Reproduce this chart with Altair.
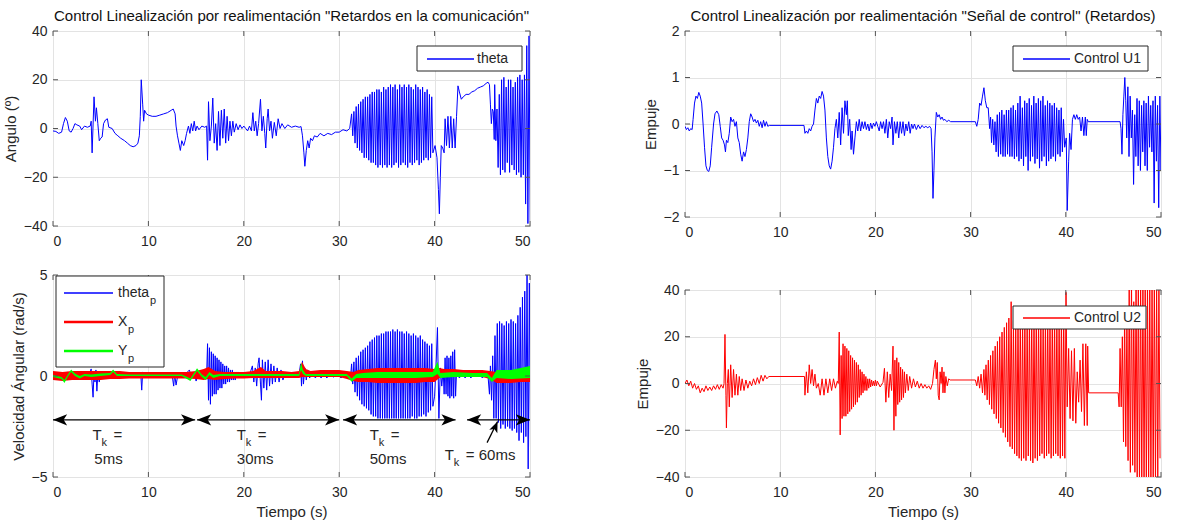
import altair as alt
import pandas as pd

FONT = "Liberation Sans"
INK = "#262626"
EDGE = "#555555"
BLUE, RED, GREEN = "#0000ff", "#ff0000", "#00ff00"

TITLE_LEFT = 'Control Linealización por realimentación "Retardos en la comunicación"'
TITLE_RIGHT = 'Control Linealización por realimentación "Señal de control" (Retardos)'
X_TICKS = [0, 10, 20, 30, 40, 50]

# ---------------- theta (deg) ----------------
THETA_PTS_A = [(0,-1),(0.3,-1.2),(0.6,-2),(0.9,-1.5),(1.1,2),(1.3,4.5),(1.5,3),(1.7,-1),(1.9,-1.5),(2.1,0),(2.3,2),(2.5,1.5),(2.8,1),(3.0,-0.5),(3.3,1),(3.6,0.5),(3.9,1),(4.0,3),(4.1,-10),(4.3,13),(4.45,3),(4.55,8.5),(4.7,2),(4.85,-5),(5.0,-4),(5.15,-3.5),(5.3,2),(5.5,3.5),(5.7,4),(5.85,0.5),(6.2,0),(6.5,-2),(6.8,-3),(7.1,-4),(7.5,-5),(7.8,-6),(8.1,-7),(8.4,-7.5),(8.7,-7),(8.9,-6),(9.05,-3),(9.15,5),(9.25,20),(9.4,10),(9.5,3),(9.6,7.5),(9.8,6),(10.0,5.5),(10.4,5),(10.8,5),(11.2,5.5),(11.6,6),(12.0,6.5),(12.4,7.5),(12.6,8),(12.8,6),(12.9,1),(13.05,-3),(13.2,-6),(13.35,-9),(13.5,-5),(13.7,-7),(13.85,-5),(14.0,-2),(14.2,1),(14.35,-2),(14.5,2),(14.65,-1),(14.8,3),(14.95,-1),(15.1,1),(15.3,-0.5),(15.6,1),(15.9,0.5),(16.1,1),(16.2,-13),(16.3,11),(16.45,-5),(16.6,1),(16.75,12.5),(16.9,-6),(17.05,2),(17.2,-9),(17.35,7),(17.5,-7),(17.65,7.5),(17.8,-4),(17.95,8),(18.1,-6),(18.25,5),(18.4,-5),(18.55,3),(18.7,-3),(18.85,3),(19.0,-1.5),(19.2,2),(19.4,-0.5),(19.6,1.5),(19.8,0),(20.0,1),(20.2,0),(20.4,-1),(20.6,1),(20.8,-1),(20.95,6.5),(21.1,-1),(21.25,3),(21.4,-3),(21.55,2),(21.75,12),(21.9,-1),(22.05,5),(22.2,-2),(22.3,-8),(22.45,4),(22.55,8),(22.7,-1),(22.85,3),(23.0,-4),(23.2,2.5),(23.4,-3),(23.6,4),(23.8,0),(24.0,2),(24.3,0),(24.6,1.5),(25.0,0.5),(25.4,1),(25.8,0.5),(26.0,0.8),(26.15,-3),(26.3,-10),(26.4,-15.5),(26.55,-9),(26.7,-5),(26.85,-8),(27.0,-4),(27.2,-5),(27.4,-3),(27.7,-3.5),(28.0,-2),(28.4,-3),(28.8,-2),(29.2,-2.5),(29.6,-1.5),(30.0,-1.5),(30.4,-0.5),(30.8,-1),(31.1,0)]
THETA_OSC_A = [6,-3,7,-6,9,-8,10,-9,11,-10,12,-12,13,-12,13,-13,14,-14,15,-14,15,-15,16,-16,16,-15,15,-16,17,-15,16,-16,17,-15,18,-16,17,-15,18,-14,16,-16,18,-15,17,-14,18,-15,17,-16,18,-14,17,-15,16,-14,18,-13,17,-15,16,-14,17,-13,15,-12,16,-13,14,-12,13,-10]
THETA_PTS_B = [(40.05,-7),(40.25,-12),(40.4,-25),(40.5,-35),(40.6,-20),(40.7,-7),(40.85,-8),(41.0,-10),(41.1,4),(41.25,-7),(41.4,5),(41.55,-8),(41.7,5),(41.85,-8),(42.0,4),(42.15,-8),(42.3,5),(42.45,17.5),(42.6,15),(42.8,12),(43.0,13),(43.3,14),(43.6,14),(43.9,15),(44.2,15.5),(44.5,16.5),(44.8,17),(45.1,17.5),(45.4,18.5),(45.6,19),(45.75,18),(45.85,10),(45.95,2),(46.05,8),(46.15,7),(46.25,-4.5)]
THETA_OSC_B = [18,-5,8,-16,14,-19,20,-17,21,-18,17,-14,20,-18,20,-15,17,-17,19,-19,21,-18,22,-20,20,-19,22,-31,34,-39,38,-38]
THETA = [THETA_PTS_A, (31.3, 0.12, THETA_OSC_A), THETA_PTS_B, (46.3, 0.12, THETA_OSC_B)]

# ---------------- theta_p (rad/s) ----------------
THETAP_PTS_A = [(0,0),(0.3,0.1),(0.6,-0.1),(0.9,0.15),(1.2,-0.1),(1.5,0.2),(1.8,-0.15),(2.1,0.1),(2.4,-0.1),(2.7,0.15),(3.0,-0.1),(3.3,0.15),(3.6,-0.05),(3.9,0.2),(4.0,0.35),(4.1,-0.4),(4.2,-1.05),(4.3,0.2),(4.4,-0.3),(4.5,0.3),(4.6,-0.75),(4.7,0.1),(4.85,-0.3),(5.0,0.2),(5.3,-0.1),(5.6,0.15),(5.9,-0.1),(6.2,0.2),(6.5,-0.1),(6.8,0.1),(7.1,-0.05),(7.5,0.1),(8.0,0),(8.5,0.1),(9.0,-0.05),(9.2,0.1),(9.3,-0.7),(9.4,0.2),(9.6,0),(10,0.05),(10.5,0),(11,0.1),(11.5,0),(12,0.1),(12.5,0),(12.65,-0.5),(12.75,0.1),(12.9,-0.45),(13.1,0.1),(13.5,0.05),(14.0,0.15),(14.3,0.3),(14.5,-0.1),(14.8,0.2),(15.0,-0.25),(15.3,0.2),(15.6,-0.1),(15.9,0.1),(16.1,0)]
THETAP_OSC_A = [1.6,-1.2,1.4,-1.4,1.2,-1.0,1.1,-0.9,1.0,-0.9,0.9,-0.7,0.8,-0.6,0.7,-0.6,0.6,-0.4,0.5,-0.4,0.5,-0.3,0.4,-0.3,0.3,-0.2,0.3,-0.2,0.2,-0.2,0.2,-0.1,0.2,-0.1,0.15,-0.1,0.1,-0.1]
THETAP_PTS_B = [(20.1,0.1),(20.4,-0.1),(20.7,0.2),(20.9,0.5),(21.05,-0.3),(21.2,0.4),(21.35,-0.5),(21.5,0.6),(21.6,0.9),(21.75,-0.4),(21.85,-1.2),(21.95,0.8),(22.1,-0.6),(22.25,0.7),(22.4,-0.7),(22.55,0.8),(22.7,-0.5),(22.85,0.6),(23.0,-0.4),(23.15,0.5),(23.3,-0.3),(23.5,0.4),(23.7,-0.3),(23.9,0.3),(24.1,-0.2),(24.4,0.2),(24.7,-0.1),(25.0,0.1),(25.4,-0.05),(25.8,0.1),(25.95,0.6),(26.05,-0.5),(26.15,0.75),(26.25,-0.4),(26.4,0.4),(26.55,-0.2),(26.7,0.3),(26.9,-0.1),(27.2,0.2),(27.5,-0.1),(27.8,0.15),(28.1,-0.1),(28.4,0.15),(28.7,-0.1),(29.0,0.1),(29.4,-0.05),(29.8,0.1),(30.2,-0.1),(30.6,0.1),(31.0,-0.05),(31.2,0)]
THETAP_OSC_B = [0.6,-0.4,0.7,-0.8,0.9,-1.0,1.0,-1.2,1.2,-1.4,1.3,-1.5,1.4,-1.6,1.5,-1.7,1.7,-1.9,1.8,-2.0,1.9,-2.0,2.0,-2.1,2.0,-2.1,2.1,-2.1,2.1,-2.1,2.2,-2.1,2.2,-2.1,2.2,-2.1,2.3,-2.1,2.2,-2.1,2.3,-2.1,2.2,-2.1,2.2,-2.1,2.1,-2.1,2.2,-2.1,2.1,-2.1,2.0,-2.0,2.1,-2.1,2.0,-2.1,1.9,-2.0,2.0,-2.0,1.8,-1.9,1.7,-2.0,1.6,-1.8,1.5,-1.7,1.6,-1.5]
THETAP_PTS_C = [(40.0,-1.0),(40.15,0.5),(40.3,2.4),(40.45,-2.1),(40.6,0.4),(40.75,-0.5),(40.9,0.3),(41.0,-0.9),(41.1,0.9),(41.2,-0.9),(41.3,1.0),(41.4,-1.0),(41.5,0.9),(41.6,-1.1),(41.7,1.0),(41.8,-1.0),(41.9,1.2),(42.0,-1.1),(42.1,1.3),(42.2,-1.0),(42.3,0.2),(42.6,-0.1),(42.9,0.15),(43.2,-0.1),(43.5,0.2),(43.8,-0.1),(44.1,0.15),(44.4,-0.05),(44.7,0.15),(45.0,-0.1),(45.3,0.1),(45.6,0),(45.75,-0.9)]
THETAP_OSC_C = [0.5,-1.2,1.0,-2.1,2.0,-2.1,2.6,-2.3,2.7,-2.6,2.6,-2.4,2.5,-2.6,2.7,-2.5,2.6,-2.6,2.8,-2.7,2.7,-2.6,2.6,-2.8,3.0,-3.2,3.4,-2.8,3.9,-3.3,4.2,-3.0,5.1,-4.6,4.6,-3.5]
THETAP = [THETAP_PTS_A, (16.2, 0.1, THETAP_OSC_A), THETAP_PTS_B, (31.3, 0.12, THETAP_OSC_B), THETAP_PTS_C, (45.85, 0.12, THETAP_OSC_C)]

# ---------------- X_p band (rad/s) ----------------
XP_T  = [0,1,2,3,4,5,6,7,8,9,10,11,12,13,14,15,15.8,16.3,17,18,19,20,21,21.8,22.3,23,24,25,25.8,26.1,26.5,27,28,29,30,30.8,31.5,32,33,34,35,36,37,38,39,40,40.5,41,42,43,44,45,45.8,46.5,47,48,49,50]
XP_LO = [-0.2,-0.25,-0.2,-0.2,-0.2,-0.2,-0.15,-0.15,-0.12,-0.12,-0.12,-0.12,-0.12,-0.12,-0.12,-0.15,-0.2,-0.15,-0.2,-0.15,-0.12,-0.12,-0.1,-0.1,-0.1,-0.1,-0.1,-0.1,-0.1,-0.05,-0.05,-0.05,-0.05,-0.05,-0.05,-0.15,-0.25,-0.3,-0.3,-0.35,-0.35,-0.35,-0.35,-0.35,-0.3,-0.3,-0.1,-0.05,-0.05,-0.05,-0.05,-0.05,-0.15,-0.35,-0.35,-0.35,-0.3,-0.3]
XP_HI = [0.25,0.2,0.25,0.25,0.25,0.25,0.25,0.25,0.2,0.2,0.2,0.2,0.2,0.2,0.2,0.25,0.35,0.45,0.25,0.2,0.2,0.2,0.25,0.45,0.25,0.25,0.25,0.2,0.25,0.7,0.35,0.25,0.3,0.3,0.3,0.25,0.2,0.3,0.35,0.4,0.4,0.4,0.4,0.4,0.4,0.35,0.4,0.35,0.35,0.3,0.3,0.3,0.25,0.2,0.2,0.2,0.2,0.2]

# ---------------- Y_p band (rad/s) ----------------
YP_T  = [0,0.9,1.2,1.6,1.9,2.3,2.8,3.3,4.0,5.0,6.0,6.3,6.7,8,10,12,13.5,14.4,15.1,15.6,16.0,16.4,16.8,17.5,20,25.8,26.0,26.2,26.5,30.8,31.3,31.8,32.5,34,36,38,39.8,40.3,40.6,42,44,45.5,46.0,46.5,48,50]
YP_LO = [-0.05,-0.15,-0.35,0.0,0.2,0.0,-0.12,0.0,-0.05,0.0,0.05,0.2,0.0,0.0,0.0,0.0,0.0,-0.25,0.25,-0.05,-0.2,0.05,-0.1,0.0,0.0,0.0,0.3,0.1,0.0,0.0,-0.28,-0.1,-0.1,-0.1,-0.1,-0.1,-0.05,0.1,-0.1,-0.05,-0.05,-0.05,-0.3,-0.1,-0.15,-0.1]
YP_HI = [0.05,-0.05,-0.2,0.1,0.32,0.12,0.0,0.1,0.08,0.12,0.15,0.32,0.1,0.08,0.08,0.08,0.08,-0.12,0.38,0.08,-0.05,0.2,0.05,0.1,0.1,0.1,0.65,0.3,0.1,0.1,-0.12,0.1,0.15,0.2,0.2,0.2,0.2,0.7,0.15,0.2,0.15,0.15,-0.1,0.3,0.3,0.5]

# ---------------- U1 ----------------
U1_PTS_A = [(0,-0.05),(0.15,-0.12),(0.3,-0.08),(0.45,-0.15),(0.6,-0.1),(0.75,-0.12),(0.85,0.1),(1.0,0.45),(1.15,0.6),(1.3,0.55),(1.45,0.68),(1.6,0.6),(1.75,0.45),(1.9,0.0),(2.05,-0.5),(2.2,-0.9),(2.35,-1.0),(2.5,-1.02),(2.65,-0.9),(2.8,-0.5),(3.0,0.0),(3.15,0.22),(3.35,0.28),(3.55,0.2),(3.7,-0.05),(3.85,-0.3),(4.0,-0.35),(4.15,-0.45),(4.25,-0.6),(4.35,-0.35),(4.5,-0.4),(4.65,-0.2),(4.8,0.15),(4.95,0.05),(5.1,0.1),(5.25,-0.05),(5.4,0.05),(5.55,-0.3),(5.7,-0.4),(5.85,-0.65),(6.0,-0.8),(6.15,-0.6),(6.3,-0.7),(6.45,-0.55),(6.6,-0.3),(6.75,0.05),(6.9,0.22),(7.05,0.15),(7.2,0.05),(7.35,0.1),(7.5,0.02),(7.65,0.08),(7.8,-0.05),(7.95,0.05),(8.1,-0.08),(8.25,0.08),(8.4,-0.05),(8.55,0.05),(8.7,-0.05),(8.85,-0.03),(12.5,-0.03),(12.6,-0.2),(12.75,-0.15),(12.9,-0.2),(13.05,-0.1),(13.2,-0.15),(13.35,-0.05),(13.5,0.0),(13.65,0.3),(13.8,0.55),(13.95,0.45),(14.1,0.6),(14.25,0.55),(14.4,0.7),(14.55,0.6),(14.7,0.3),(14.85,-0.3),(15.0,-0.7),(15.15,-0.9),(15.3,-0.97),(15.45,-0.8),(15.6,-0.5),(15.75,-0.1),(15.9,0.1),(16.05,-0.3),(16.2,0.25),(16.35,-0.45),(16.5,0.35),(16.65,-0.2),(16.8,0.5),(16.95,0.2),(17.05,0.5),(17.15,-0.25),(17.3,0.1),(17.45,-0.55),(17.55,-0.15),(17.7,-0.65),(17.85,-0.3),(18.0,0.05),(18.15,-0.15),(18.3,0.1),(18.45,-0.15),(18.6,0.05),(18.75,-0.1),(18.9,0.05),(19.05,-0.12),(19.2,0.0),(19.35,-0.15),(19.5,0.02),(19.65,-0.1),(19.8,0.02),(19.95,-0.05),(20.1,0.05),(20.25,-0.05),(20.4,-0.15),(20.55,0.05),(20.7,-0.1),(20.85,0.05),(21.0,-0.2),(21.15,0.1),(21.3,-0.3),(21.45,0.05),(21.6,-0.1),(21.75,0.15),(21.85,-0.45),(22.0,0.05),(22.15,-0.2),(22.3,0.05),(22.45,-0.3),(22.6,0.05),(22.75,-0.2),(22.9,0.05),(23.05,-0.25),(23.2,0.0),(23.35,-0.15),(23.5,0.05),(23.65,-0.2),(23.8,0.0),(23.95,-0.1),(24.1,0.0),(24.3,-0.12),(24.5,-0.02),(24.7,-0.1),(24.9,-0.03),(25.1,-0.08),(25.3,-0.05),(25.5,-0.08),(25.7,-0.05),(25.85,-0.1),(25.95,-0.6),(26.05,-1.6),(26.15,-1.0),(26.25,-0.3),(26.4,0.25),(26.55,0.15),(26.7,0.2),(26.85,0.1),(27.0,0.15),(27.15,0.08),(27.3,0.1),(27.5,0.05),(27.7,0.08),(27.9,0.05),(30.5,0.05),(30.65,-0.05),(30.8,0.1),(30.95,0.45),(31.1,0.4),(31.25,0.6),(31.4,0.78),(31.55,0.5),(31.7,0.35),(31.85,0.35),(32.0,-0.1),(32.1,0.15)]
U1_OSC_A = [-0.4,0.1,-0.45,0.05,-0.6,0.2,-0.7,0.25,-0.65,0.3,-0.7,0.2,-0.7,0.3,-0.65,0.3,-0.7,0.35,-0.7,0.4,-0.75,0.3,-0.7,0.45,-0.8,0.6,-0.75,0.35,-0.9,0.5,-0.7,0.45,-1.0,0.55,-0.8,0.4,-0.7,0.6,-0.85,0.45,-0.75,0.55,-0.95,0.5,-0.8,0.6,-0.7,0.4,-0.9,0.5,-0.8,0.45,-0.75,0.4,-0.7,0.45,-0.8,0.35,-0.65,0.3,-0.7,0.35,-0.6,0.1,-0.5]
U1_PTS_B = [(40.05,-0.3),(40.15,-1.86),(40.3,-0.8),(40.4,-0.2),(40.55,-0.55),(40.7,0.1),(40.85,0.2),(41.0,0.1),(41.15,0.2),(41.3,0.1),(41.45,0.15),(41.6,-0.15),(41.75,0.15),(41.9,-0.25),(42.05,0.15),(42.15,-0.25),(42.25,0.1),(42.35,0.05),(45.7,0.05),(45.8,-0.1),(45.9,-0.65),(46.0,0.2),(46.1,0.6),(46.2,1.0),(46.3,0.5)]
U1_OSC_B = [-0.3,0.8,-0.7,0.6,-0.3,0.3,-1.3,0.2,-0.7,0.55,-0.9,0.5,-1.0,0.4,-0.6,0.5,-0.9,0.45,-1.0,0.6,-0.5,0.4,-0.6,0.5,-1.7,0.6,-0.8,0.4,-1.8,0.6,-1.0,0.35]
U1 = [U1_PTS_A, (32.2, 0.12, U1_OSC_A), U1_PTS_B, (46.4, 0.12, U1_OSC_B)]

# ---------------- U2 ----------------
U2_PTS_A = [(0,0),(0.2,1.5),(0.4,-1),(0.6,1),(0.8,-2),(1.0,0),(1.2,-2.5),(1.4,-1),(1.6,-4),(1.8,-2),(2.0,-3.5),(2.2,-1),(2.4,-3),(2.6,-1.5),(2.8,-3),(3.0,-1),(3.2,-2.5),(3.4,-0.5),(3.6,-2.5),(3.8,-0.5),(4.0,-2),(4.1,0),(4.2,21),(4.3,-5),(4.35,-19),(4.45,0),(4.55,6),(4.65,-10),(4.8,8),(4.95,-6),(5.1,6),(5.25,-5),(5.4,4),(5.55,-5),(5.7,3),(5.85,-3),(6.0,2),(6.2,-3),(6.4,1.5),(6.6,-2),(6.8,1),(7.0,-1),(7.2,2),(7.4,-0.5),(7.6,2.5),(7.8,0),(8.0,3.5),(8.2,1),(8.4,3.5),(8.6,2),(8.8,3),(12.55,3),(12.6,-5),(12.75,5),(12.9,-4),(13.05,8),(13.2,0),(13.35,6),(13.5,-1),(13.65,4),(13.8,-2),(14.0,0),(14.2,-5),(14.4,2),(14.6,-5),(14.8,2),(15.0,-4),(15.2,2),(15.4,-3),(15.6,2),(15.8,-2),(16.0,1),(16.1,0)]
U2_OSC_A = [22,-22,12,-15,17,-14,16,-14,15,-13,14,-12,12,-11,11,-10,10,-9,9,-8,8,-6,6,-5,5,-4,4,-3,3,-3,2,-2,2,-1.5,1.5,-1,1,-1,1.5,-1,1]
U2_PTS_B = [(20.5,-1.5),(20.8,0.5),(20.95,6.5),(21.1,-8),(21.25,5),(21.4,-6),(21.55,4),(21.7,-3),(21.85,16),(21.95,-20),(22.05,10),(22.15,-14),(22.25,11),(22.35,-9),(22.45,9),(22.55,-8),(22.65,7),(22.75,-7),(22.85,6),(22.95,-6),(23.05,5),(23.15,-4),(23.3,4),(23.45,-3),(23.6,3),(23.8,-2),(24.0,2),(24.2,-1.5),(24.4,1),(24.6,-2),(24.8,0),(25.0,-2),(25.2,-0.5),(25.4,-2),(25.6,-1),(25.8,-2.5),(26.0,0),(26.15,6),(26.3,10),(26.4,2),(26.5,9),(26.6,-5),(26.7,-7),(26.8,5),(26.9,0),(27.0,7),(27.1,-4),(27.2,5),(27.3,-4),(27.4,3),(27.55,-1),(27.7,2),(27.85,1.5),(30.5,1.5),(30.65,-1),(30.8,3),(30.95,-2),(31.1,4),(31.25,-4),(31.4,6)]
U2_OSC_B = [-5,8,-7,10,-9,12,-11,14,-13,16,-15,18,-17,20,-19,22,-21,24,-23,26,-25,28,-27,35,-28,27,-30,28,-31,30,-32,29,-33,28,-32,30,-33,29,-31,28,-33,30,-34,30,-32,31,-33,29,-31,30,-30,28,-32,30,-31,31,-30,29,-32,30,-31,30,-30,31,-31,29,-32,30,-31,31,-32,39]
U2_PTS_C = [(40.15,-10),(40.3,15),(40.45,-15),(40.6,14),(40.75,-16),(40.9,15),(41.05,-17),(41.2,5),(41.35,-8),(41.5,10),(41.65,-12),(41.8,17),(41.95,-18),(42.1,17),(42.25,-18),(42.3,16),(42.4,-4),(45.5,-4),(45.6,-10)]
U2_OSC_C = [15,-10,20,-25,30,-27,30,-33,40,-38,45,-35,35,-38,45,-40,45,-45,45,-45,45,-45,45,-45,45,-45,45,-45,45,-45,45,-45,45,-45,45,-32]
U2 = [U2_PTS_A, (16.2, 0.1, U2_OSC_A), U2_PTS_B, (31.5, 0.12, U2_OSC_B), U2_PTS_C, (45.7, 0.12, U2_OSC_C)]

# ---------------- annotations (panel 2) ----------------
ARROW_Y = -2.17
ARROW_START = [0, 15.1, 30.4, 43.4]
ARROW_END = [14.9, 30.0, 42.2, 50.0]
TK_T = [4.13, 19.27, 33.2, 41.07]
TK_Y = [-2.9, -2.9, -2.9, -3.9]
TK_REST = ["=", "=", "=", "= 60ms"]
MS_T = [4.33, 19.27, 33.2]
MS_Y = [-4.1, -4.1, -4.1]
MS_LABEL = ["5ms", "30ms", "50ms"]
POINTER = [(45.5, -3.3), (46.6, -2.25)]


def build(parts):
    rows = []
    for p in parts:
        if isinstance(p, tuple):
            t0, dt, vals = p
            rows += [(round(t0 + i * dt, 4), v) for i, v in enumerate(vals)]
        else:
            rows += list(p)
    return pd.DataFrame(rows, columns=["t", "v"])


XSCALE = alt.Scale(domain=[0, 50], nice=False, zero=False)


def X(title=None, field="t"):
    return alt.X(f"{field}:Q", scale=XSCALE, axis=alt.Axis(values=X_TICKS, title=title))


def Y(dom, ticks, title, field="v"):
    return alt.Y(f"{field}:Q", scale=alt.Scale(domain=dom, nice=False, zero=False),
                 axis=alt.Axis(values=ticks, title=title))


ONE = alt.Data(values=[{"a": 1}])


def lg_box(x1, x2, y1, y2):
    return alt.Chart(ONE).mark_rect(fill="white", stroke=INK, strokeWidth=1).encode(
        x=alt.value(x1), x2=alt.value(x2), y=alt.value(y1), y2=alt.value(y2))


def lg_line(x1, x2, y, color, w):
    return alt.Chart(ONE).mark_rule(color=color, strokeWidth=w).encode(
        x=alt.value(x1), x2=alt.value(x2), y=alt.value(y))


def lg_text(x, y, text, size=14, dy=0):
    return alt.Chart(ONE).mark_text(align="left", baseline="middle", font=FONT, fontSize=size,
                                    color=INK, text=text, dy=dy).encode(x=alt.value(x), y=alt.value(y))


def box_ticks(xdef, ydef, yvals, w, h, L=5):
    xt = alt.Chart(pd.DataFrame({"t": X_TICKS}))
    yt = alt.Chart(pd.DataFrame({"v": yvals}))
    st = dict(color=EDGE, strokeWidth=1)
    return [
        xt.mark_rule(**st).encode(x=xdef, y=alt.value(h - L), y2=alt.value(h)),
        xt.mark_rule(**st).encode(x=xdef, y=alt.value(0), y2=alt.value(L)),
        yt.mark_rule(**st).encode(y=ydef, x=alt.value(0), x2=alt.value(L)),
        yt.mark_rule(**st).encode(y=ydef, x=alt.value(w - L), x2=alt.value(w)),
    ]


def title(txt):
    return alt.TitleParams(txt, font=FONT, fontSize=15, fontWeight="normal", color="#111111",
                           offset=0, anchor="middle")


W = 477
# ---- panel 1 ----
Y1T = [-40, -20, 0, 20, 40]
y1 = Y([-40, 40], Y1T, "Angulo (º)")
x1 = X()
p1 = alt.layer(
    alt.Chart(build(THETA)).mark_line(color=BLUE, strokeWidth=1, clip=True).encode(x=x1, y=y1),
    *box_ticks(x1, y1, Y1T, W, 195),
    lg_box(364, 469, 15, 40), lg_line(374, 421, 28, BLUE, 1.5), lg_text(424, 28, "theta"),
).properties(width=W, height=195, title=title(TITLE_LEFT))

# ---- panel 2 ----
Y2T = "Velocidad Ángular (rad/s)"
Y2TICKS = [-5, 0, 5]
y2 = Y([-5, 5], Y2TICKS, Y2T)
xp = pd.DataFrame({"t": XP_T, "lo": XP_LO, "hi": XP_HI})
yp = pd.DataFrame({"t": YP_T, "lo": YP_LO, "hi": YP_HI})
arrows = pd.DataFrame({"t": ARROW_START, "t2": ARROW_END, "v": [ARROW_Y] * 4})
tk = pd.DataFrame({"t": TK_T, "v": TK_Y, "rest": TK_REST})
ms = pd.DataFrame({"t": MS_T, "v": MS_Y, "label": MS_LABEL})
ptr = pd.DataFrame({"t": [POINTER[0][0]], "t2": [POINTER[1][0]], "v": [POINTER[0][1]], "v2": [POINTER[1][1]]})
LEFT_HEAD = "M 0 0 L 2 -0.8 L 1.5 0 L 2 0.8 Z"
RIGHT_HEAD = "M 0 0 L -2 -0.8 L -1.5 0 L -2 0.8 Z"
UP_HEAD = "M 0 0 L -0.8 2 L 0 1.5 L 0.8 2 Z"
ytext = dict(font=FONT, fontSize=15, color=INK, align="left", baseline="middle")
XT = X("Tiempo (s)")
p2 = alt.layer(
    alt.Chart(build(THETAP)).mark_line(color=BLUE, strokeWidth=1, clip=True).encode(x=XT, y=y2),
    alt.Chart(xp).mark_area(color=RED, opacity=1, clip=True).encode(x=XT, y=Y([-5, 5], Y2TICKS, Y2T, "lo"), y2="hi:Q"),
    alt.Chart(yp).mark_area(color=GREEN, opacity=1, clip=True).encode(x=XT, y=Y([-5, 5], Y2TICKS, Y2T, "lo"), y2="hi:Q"),
    *box_ticks(XT, y2, Y2TICKS, W, 202),
    alt.Chart(arrows).mark_rule(color="black", strokeWidth=1.3).encode(x=XT, x2="t2:Q", y=y2),
    alt.Chart(arrows).mark_point(shape=LEFT_HEAD, filled=True, color="black", opacity=1, size=200).encode(x=XT, y=y2),
    alt.Chart(arrows).mark_point(shape=RIGHT_HEAD, filled=True, color="black", opacity=1, size=200).encode(x=X("Tiempo (s)", "t2"), y=y2),
    alt.Chart(ptr).mark_rule(color="black", strokeWidth=1.3).encode(x=XT, x2="t2:Q", y=y2, y2="v2:Q"),
    alt.Chart(ptr).mark_point(shape=UP_HEAD, filled=True, color="black", opacity=1, size=120, angle=23).encode(x=X("Tiempo (s)", "t2"), y=Y([-5, 5], Y2TICKS, Y2T, "v2")),
    alt.Chart(tk).mark_text(text="T", **ytext).encode(x=XT, y=y2),
    alt.Chart(tk).mark_text(text="k", dx=9, dy=8, **{**ytext, "fontSize": 11}).encode(x=XT, y=y2),
    alt.Chart(tk).mark_text(dx=21, **ytext).encode(x=XT, y=y2, text="rest:N"),
    alt.Chart(ms).mark_text(**ytext).encode(x=XT, y=y2, text="label:N"),
    lg_box(3, 111, 1, 92),
    lg_line(11, 60, 18, BLUE, 1.5), lg_text(65, 18, "theta"), lg_text(97, 18, "p", 11, 8),
    lg_line(11, 60, 47, RED, 2.5), lg_text(65, 47, "X"), lg_text(75, 47, "p", 11, 8),
    lg_line(11, 60, 76, GREEN, 2.5), lg_text(65, 76, "Y"), lg_text(75, 76, "p", 11, 8),
).properties(width=W, height=202)

# ---- panel 3 ----
Y3T = [-2, -1, 0, 1, 2]
y3 = Y([-2, 2], Y3T, "Empuje")
x3 = X()
p3 = alt.layer(
    alt.Chart(build(U1)).mark_line(color=BLUE, strokeWidth=1, clip=True).encode(x=x3, y=y3),
    *box_ticks(x3, y3, Y3T, 476, 186),
    lg_box(328, 463, 15, 40), lg_line(338, 385, 28, BLUE, 1.5), lg_text(389, 28, "Control U1"),
).properties(width=476, height=186, title=title(TITLE_RIGHT))

# ---- panel 4 ----
Y4T = [-40, -20, 0, 20, 40]
y4 = Y([-40, 40], Y4T, "Empuje")
x4 = X("Tiempo (s)")
p4 = alt.layer(
    alt.Chart(build(U2)).mark_line(color=RED, strokeWidth=1, clip=True).encode(x=x4, y=y4),
    *box_ticks(x4, y4, Y4T, 476, 187),
    lg_box(328, 461, 16, 39), lg_line(338, 385, 28, RED, 1.5), lg_text(389, 28, "Control U2"),
).properties(width=476, height=187)

left = alt.vconcat(p1, p2, spacing=18)
right = alt.vconcat(p3, p4, spacing=42)
chart = alt.hconcat(left, right, spacing=102).properties(
    padding={"left": 2, "top": 8, "right": 2, "bottom": 2}
).configure_view(stroke=EDGE, strokeWidth=1).configure_axis(
    labelFont=FONT, titleFont=FONT, labelFontSize=14, titleFontSize=15, labelColor=INK,
    titleColor=INK, titleFontWeight="normal", domain=False, ticks=False,
    gridColor="#e3e3e3", gridWidth=1, titlePadding=5
).configure_axisX(labelPadding=8).configure_axisY(labelPadding=6)

chart.save("out.html", embed_options={"renderer": "svg", "actions": False})
